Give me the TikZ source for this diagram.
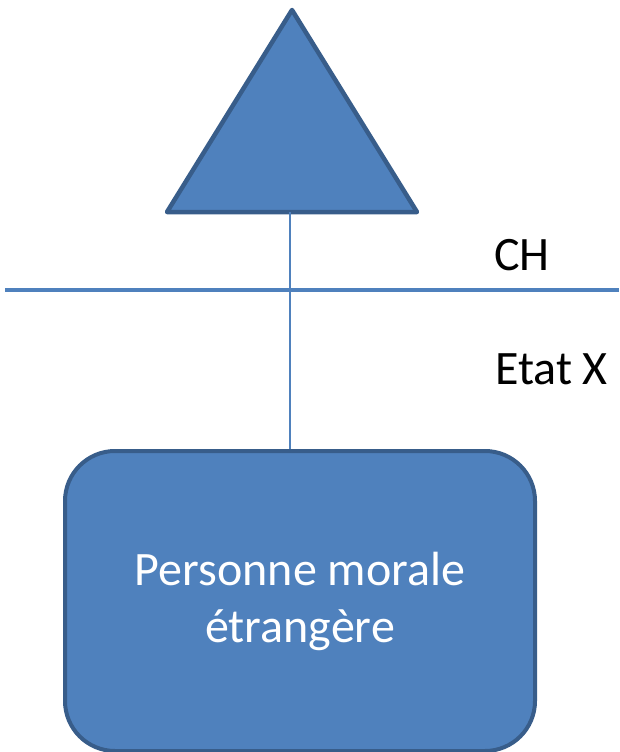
\documentclass[tikz,border=0pt]{standalone}
\usepackage{fontspec}
\setmainfont{Carlito}
\usepackage{xcolor}
\usetikzlibrary{shapes,arrows,calc,positioning}

\definecolor{offblue}{HTML}{4F81BD}
\definecolor{offdark}{HTML}{385D8A}

\begin{document}
\begin{tikzpicture}[x=1pt,y=-1pt,
		    bluefill/.style={fill=offblue, draw=offdark, line width=4.5pt, line join=round},
		    tagtext/.style={font=\fontsize{48}{57}\selectfont, inner sep=0pt}]

	\useasboundingbox (0,0) rectangle (619,752);

	% triangle
	\coordinate (T) at (292,10);
	\coordinate (TL) at (167,212);
	\coordinate (TR) at (417,212);
	\coordinate (T0) at (290,212);
	\draw[bluefill] (T) -- (TL) -- (TR) -- cycle;

	% border line
	\draw[offblue,line width=4.5pt] (5,290) -- (619,290);

	\node[tagtext,anchor=base west] (CH) at (494,270) {CH};
	\node[tagtext,anchor=base west] (X) at (495,384) {Etat X};

	\node[bluefill,line width=4pt,rounded corners=50pt,minimum width=470pt,minimum height=300pt,
	      text=white,align=center,font=\fontsize{48}{57}\selectfont] (P) at (300,601)
	      {Personne morale\\étrangère};

	\draw[offblue,line width=2.5pt] (T0) -- (T0 |- P.north);
\end{tikzpicture}
\end{document}
